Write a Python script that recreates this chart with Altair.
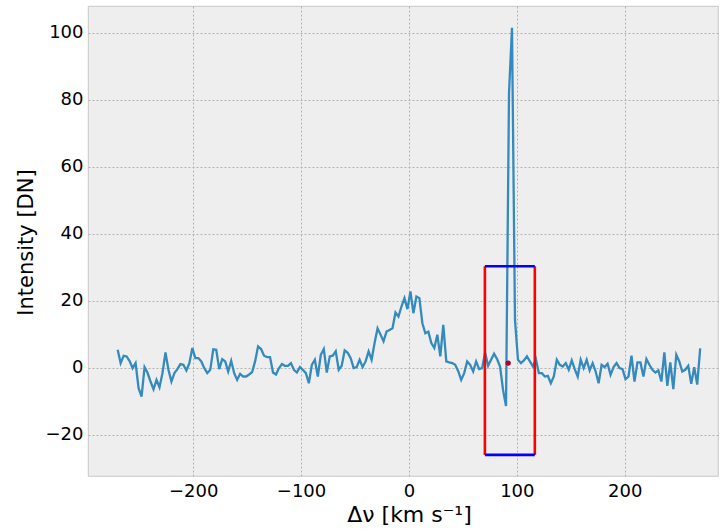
import altair as alt
import numpy as np
import pandas as pd

# Line profile intensity [DN], sampled on a uniform velocity grid
intensity = [
    5.4, 1.4, 3.6, 3.4, 2.0, -0.1, 1.4, -6.1, -8.6, 0.2,
    -1.5, -4.1, -6.4, -3.6, -5.8, -1.6, 4.6, -0.6, -4.1, -1.6,
    -0.4, 1.1, 0.9, -0.8, 1.4, 5.9, 2.9, 2.9, 1.9, -0.1,
    -1.6, -0.6, 5.5, 5.4, -0.4, 2.6, 1.9, -1.1, 2.1, -1.6,
    -3.6, -1.8, -2.6, -2.6, -2.0, -1.3, 1.9, 6.4, 5.6, 3.6,
    3.2, 3.2, -1.4, -2.0, -0.1, 1.1, 0.6, 0.6, 1.4, -0.6,
    -1.4, 0.2, -0.6, -1.6, -4.6, 0.9, 2.4, -2.6, 3.9, 5.6,
    -1.4, 3.4, 3.6, 4.9, -0.6, 0.6, 5.2, 4.5, 2.9, -0.1,
    0.2, 2.4, 0.2, 1.9, 4.9, 2.4, 7.4, 11.8, 9.9, 7.9,
    10.8, 11.3, 11.8, 16.5, 15.3, 18.3, 20.8, 17.5, 22.8, 16.3,
    21.3, 20.8, 13.3, 10.3, 10.8, 7.4, 5.9, 9.9, 3.4, 12.8,
    1.9, 1.6, 1.4, 0.9, -1.0, -3.6, -1.6, 1.9, 0.9, -1.1,
    1.9, -0.4, -0.1, 4.6, 0.6, 2.4, 4.2, 2.6, 0.4, -6.6,
    -11.4, 82.0, 101.5, 14.3, 2.4, 1.4, 2.2, 3.4, 1.9, 0.4,
    2.6, -1.6, -1.6, -2.6, -2.4, -4.6, -2.6, 2.4, 0.9, 0.4,
    1.4, -0.6, 2.2, -0.4, -2.6, 2.4, -0.1, 2.4, -0.8, 1.4,
    -1.1, -4.6, 0.9, 0.2, 1.2, -2.1, 0.2, 1.4, -0.1, -0.4,
    -3.4, -2.6, 3.6, -4.1, 1.6, 1.6, -2.6, 2.6, 0.9, -0.6,
    -1.4, -0.8, -4.1, 4.6, -5.4, 1.6, -6.4, 3.9, 1.9, -1.1,
    -0.6, 0.6, -4.8, 0.2, -5.0, 5.8,
]
v_start, v_stop = -270.0, 270.0
velocity = np.linspace(v_start, v_stop, len(intensity))

# Fitting window around the narrow feature, and its centroid
window_v = [70.4, 116.7]
window_i = [-26.0, 30.3]
centroid_v = [92.0]
centroid_i = [1.4]

x_ticks = [-200, -100, 0, 100, 200]
y_ticks = [-20, 0, 20, 40, 60, 80, 100]

X_TITLE = "Δν [km s⁻¹]"
Y_TITLE = "Intensity [DN]"

x_scale = alt.Scale(domain=[-297.5, 286.5], nice=False, zero=False)
y_scale = alt.Scale(domain=[-32.3, 108.0], nice=False, zero=False)

minus = "replace(datum.label, '-', '\u2212')"
x_axis = alt.Axis(values=x_ticks, title=X_TITLE, labelExpr=minus,
                  titleX=321, titleY=38, titleBaseline="middle", titleFontSize=22)
y_axis = alt.Axis(values=y_ticks, title=Y_TITLE, labelExpr=minus,
                  titleX=-62, titleY=236, titleBaseline="middle")


def xenc(field):
    return alt.X(field, type="quantitative", scale=x_scale, axis=x_axis, title=X_TITLE)


def yenc(field):
    return alt.Y(field, type="quantitative", scale=y_scale, axis=y_axis, title=Y_TITLE)


spectrum = pd.DataFrame({"v": velocity, "I": intensity})

profile = alt.Chart(spectrum).mark_line(
    color="#348ABD", strokeWidth=2.3, clip=True
).encode(x=xenc("v"), y=yenc("I"))

edges = pd.DataFrame({"v": window_v, "lo": [window_i[0]] * 2, "hi": [window_i[1]] * 2})
side_rules = alt.Chart(edges).mark_rule(color="red", strokeWidth=2.6).encode(
    x=xenc("v"), y=yenc("lo"), y2="hi"
)

caps = pd.DataFrame({"I": window_i, "lo": [window_v[0]] * 2, "hi": [window_v[1]] * 2})
cap_rules = alt.Chart(caps).mark_rule(color="blue", strokeWidth=2.6).encode(
    y=yenc("I"), x=xenc("lo"), x2="hi"
)

centre = pd.DataFrame({"v": centroid_v, "I": centroid_i})
centre_dot = alt.Chart(centre).mark_point(
    filled=True, color="#A60628", size=28, opacity=1
).encode(x=xenc("v"), y=yenc("I"))

chart = (
    alt.layer(profile, side_rules, cap_rules, centre_dot)
    .properties(
        width=630,
        height=470,
        autosize=alt.AutoSizeParams(type="none"),
        padding={"left": 88, "top": 6, "right": 2, "bottom": 54},
        background="white",
    )
    .configure_view(fill="#EEEEEE", stroke="#BCBCBC", strokeWidth=0.8)
    .configure_axis(
        domain=False,
        ticks=False,
        grid=True,
        gridColor="#B2B2B2",
        gridDash=[2, 2],
        gridWidth=1,
        labelFont="DejaVu Sans",
        labelFontSize=18,
        labelColor="black",
        titleFont="DejaVu Sans",
        titleFontSize=21,
        titleFontWeight="normal",
        titleColor="black",
    )
    .configure_axisX(labelPadding=6)
    .configure_axisY(labelPadding=5)
)

chart.save("out.html", embed_options={"renderer": "svg", "actions": False})
